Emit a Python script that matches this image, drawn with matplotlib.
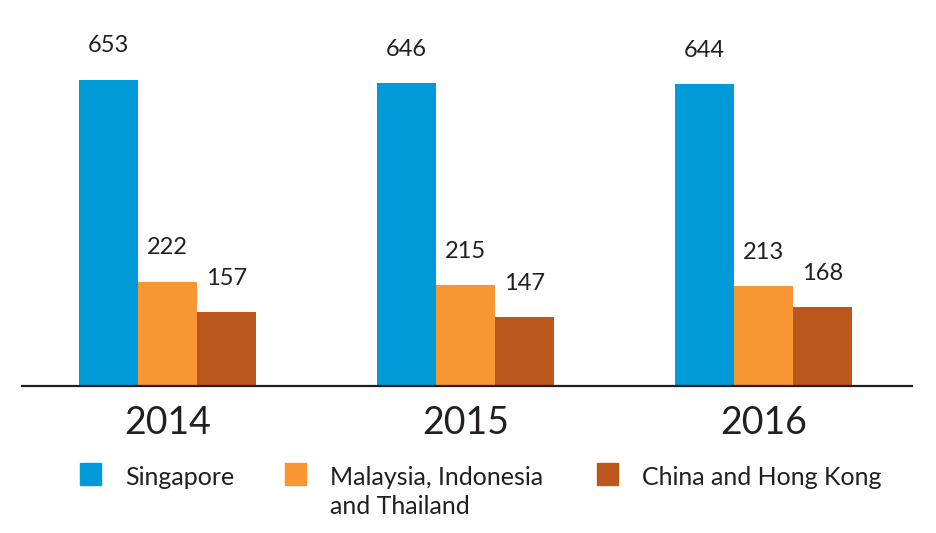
import matplotlib.pyplot as plt
from matplotlib.patches import Rectangle
import numpy as np

years = ["2014", "2015", "2016"]
regions = ["Singapore", "Malaysia, Indonesia\nand Thailand", "China and Hong Kong"]
singapore = [653, 646, 644]
malaysia = [222, 215, 213]
china = [157, 147, 168]
colors = ["#009ad9", "#f79633", "#bb561c"]
text_color = "#231f20"

plt.rcParams['font.family'] = ['Lato', 'DejaVu Sans']

fig = plt.figure(figsize=(9.36, 5.33), dpi=100)
ax = fig.add_axes([22 / 936, 147 / 533, 890 / 936, 386 / 533])

x = np.arange(len(years))
w = 0.198
series = [singapore, malaysia, china]
for i, vals in enumerate(series):
    bars = ax.bar(x + (i - 1) * w, vals, width=w, color=colors[i])
    for b, v in zip(bars, vals):
        ax.annotate(str(v), (b.get_x() + b.get_width() / 2, v),
                    xytext=(0, 17), textcoords="offset points",
                    ha="center", va="bottom", fontsize=17, color=text_color)

ax.set_xlim(-0.488, 2.498)
ax.set_ylim(0, 823.7)
ax.set_xticks(x)
ax.set_xticklabels(years, fontsize=27, color=text_color)
ax.tick_params(axis="x", length=0, pad=14)
ax.set_yticks([])
for s in ["top", "left", "right"]:
    ax.spines[s].set_visible(False)
ax.spines["bottom"].set_color(text_color)
ax.spines["bottom"].set_linewidth(1.6)

# legend drawn by hand so the square sits on the first line of a two-line label
leg_x = [80, 285, 597]
for i, lab in enumerate(regions):
    x0 = leg_x[i] / 936
    fig.patches.append(Rectangle((x0, (533 - 485) / 533), 21 / 936, 22 / 533,
                                 transform=fig.transFigure, color=colors[i]))
    for j, line in enumerate(lab.split("\n")):
        fig.text((leg_x[i] + 45) / 936, (533 - 485 - 29 * j) / 533, line,
                 fontsize=18, color=text_color, va="baseline", ha="left")

fig.savefig("out.png", dpi=100)
